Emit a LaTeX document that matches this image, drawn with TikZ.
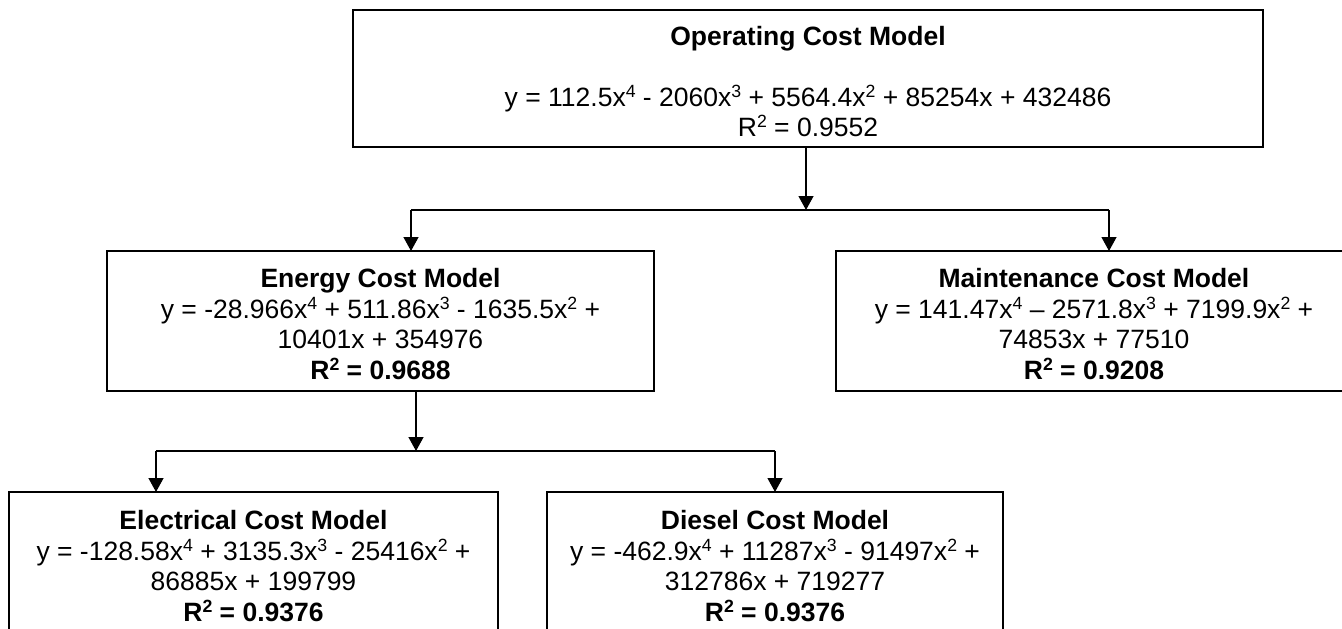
\documentclass[tikz,border=0pt]{standalone}
\usepackage{fontspec}
\setmainfont{Liberation Sans}
\usetikzlibrary{arrows.meta}
\newcommand{\pw}[1]{\raisebox{9pt}{\fontsize{17.7}{17.7}\selectfont #1}}
\newcommand{\fst}{\rule{0pt}{25.5pt}}
\begin{document}
\begin{tikzpicture}[x=1pt,y=-1pt,
  box/.style={draw, line width=1.3pt, inner sep=0pt, outer sep=0pt, align=center,
    font=\fontsize{26.5}{30.5}\selectfont, anchor=north west},
  link/.style={line width=1.3pt},
  arr/.style={line width=1.3pt, -{Triangle[length=14pt,width=15pt]}}]
\useasboundingbox (0,0) rectangle (1342,629);
\clip (0,0) rectangle (1342,629);
\fill[white] (0,0) rectangle (1342,629);

\node[box, minimum width=910pt, minimum height=137pt] (top) at (353,10)
  {\fst\textbf{Operating Cost Model}\\[30.5pt]
   y = 112.5x\pw{4} - 2060x\pw{3} + 5564.4x\pw{2} + 85254x + 432486\\
   R\pw{2} = 0.9552};

\node[box, minimum width=547pt, minimum height=140pt] (energy) at (107,251)
  {\fst\textbf{Energy Cost Model}\\
   y = -28.966x\pw{4} + 511.86x\pw{3} - 1635.5x\pw{2} +\\
   10401x + 354976\\
   \textbf{R\pw{2} = 0.9688}};

\node[box, minimum width=516pt, minimum height=140pt] (maint) at (836,251)
  {\fst\textbf{Maintenance Cost Model}\\
   y = 141.47x\pw{4} – 2571.8x\pw{3} + 7199.9x\pw{2} +\\
   74853x + 77510\\
   \textbf{R\pw{2} = 0.9208}};

\node[box, minimum width=489pt, minimum height=142pt] (elec) at (9,492)
  {\fst\textbf{Electrical Cost Model}\\
   y = -128.58x\pw{4} + 3135.3x\pw{3} - 25416x\pw{2} +\\
   86885x + 199799\\
   \textbf{R\pw{2} = 0.9376}};

\node[box, minimum width=456pt, minimum height=142pt] (diesel) at (547,492)
  {\fst\textbf{Diesel Cost Model}\\
   y = -462.9x\pw{4} + 11287x\pw{3} - 91497x\pw{2} +\\
   312786x + 719277\\
   \textbf{R\pw{2} = 0.9376}};

% first level bus
\coordinate (busA) at (806,210);
\coordinate (busAl) at (411,210);
\coordinate (busAr) at (1109,210);
\draw[link] (busAl) -- (busAr);
\draw[arr] (top.south -| busA) -- (busA);
\draw[arr] (busAl) -- (busAl |- energy.north);
\draw[arr] (busAr) -- (busAr |- maint.north);

% second level bus
\coordinate (busB) at (416,451);
\coordinate (busBl) at (156,451);
\coordinate (busBr) at (775,451);
\draw[link] (busBl) -- (busBr);
\draw[arr] (busB |- energy.south) -- (busB);
\draw[arr] (busBl) -- (busBl |- elec.north);
\draw[arr] (busBr) -- (busBr |- diesel.north);
\end{tikzpicture}
\end{document}
